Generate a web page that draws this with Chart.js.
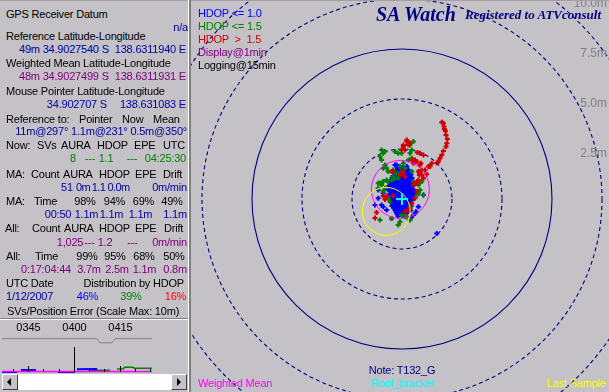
<!DOCTYPE html>
<html>
<head>
<meta charset="utf-8">
<title>SA Watch</title>
<script src="https://cdn.jsdelivr.net/npm/chart.js@4.4.1/dist/chart.umd.min.js"></script>
<style>
  html, body { margin: 0; padding: 0; }
  body {
    position: relative; width: 609px; height: 392px; overflow: hidden;
    background: #c4c2c7; font-family: 'Liberation Sans', Arial, sans-serif; font-size: 11px;
  }
  .t { position: absolute; white-space: pre; line-height: 11px; letter-spacing: -0.2px; }
  #chart { position: absolute; left: 191px; top: 0; }
  #mini { position: absolute; left: 2px; top: 322px; }
  .rule { position: absolute; }
  .btn {
    position: absolute; top: 374px; width: 16px; height: 16px; background: #c4c2c7; box-sizing: border-box;
    border-top: 1px solid #fff; border-left: 1px solid #fff; border-right: 1px solid #404040; border-bottom: 1px solid #404040;
  }
  .arrow { position: absolute; top: 3px; width: 0; height: 0; border-top: 4px solid transparent; border-bottom: 4px solid transparent; }
</style>
</head>
<body>
<canvas id="chart" width="418" height="392"></canvas>
<canvas id="mini" width="185" height="52"></canvas>
<div class="rule" style="left:0;top:0;width:609px;height:1px;background:#a09fa3"></div>
<div class="rule" style="left:0;top:318px;width:188px;height:1px;background:#808080"></div>
<div class="rule" style="left:0;top:319px;width:188px;height:1px;background:#fff"></div>
<div class="rule" style="left:188px;top:0;width:1px;height:392px;background:#fff"></div>
<div class="rule" style="left:189px;top:0;width:2px;height:392px;background:#808080"></div>
<div class="rule" style="left:2px;top:374px;width:185px;height:16px;background:#fff"></div>
<div class="btn" style="left:2px"><div class="arrow" style="left:4px;border-right:4px solid #000"></div></div>
<div class="btn" style="left:171px"><div class="arrow" style="left:5px;border-left:4px solid #000"></div></div>
<script>
// positions in metres from the reference point: [east, north]
const bluePts = [
  [-0.20, 1.55], [0.02, 1.57], [0.22, 1.52],
  [-0.30, 1.45], [-0.10, 1.46], [0.10, 1.44], [0.30, 1.47],
  [-0.40, 1.35], [-0.18, 1.37], [0.02, 1.33], [0.20, 1.36], [0.40, 1.32],
  [-0.35, 1.25], [-0.15, 1.26], [0.05, 1.24], [0.25, 1.27], [0.45, 1.23],
  [-0.45, 1.15], [-0.25, 1.17], [-0.05, 1.13], [0.15, 1.16], [0.35, 1.12],
  [-0.50, 1.05], [-0.30, 1.06], [-0.10, 1.04], [0.10, 1.07], [0.30, 1.03], [0.50, 1.05],
  [-0.55, 0.95], [-0.35, 0.97], [-0.15, 0.93], [0.05, 0.96], [0.25, 0.94], [0.45, 0.97],
  [-0.65, 0.85], [-0.45, 0.86], [-0.25, 0.84], [-0.05, 0.87], [0.15, 0.83], [0.35, 0.85], [0.55, 0.86],
  [-0.60, 0.75], [-0.40, 0.77], [-0.20, 0.73], [0.00, 0.76], [0.20, 0.74], [0.40, 0.77], [0.55, 0.72],
  [-0.65, 0.65], [-0.45, 0.66], [-0.25, 0.64], [-0.05, 0.67], [0.15, 0.63], [0.35, 0.65], [0.55, 0.66],
  [-0.55, 0.55], [-0.35, 0.57], [-0.15, 0.53], [0.05, 0.56], [0.25, 0.54], [0.45, 0.57],
  [-0.60, 0.45], [-0.40, 0.46], [-0.20, 0.44], [0.00, 0.47], [0.20, 0.43], [0.40, 0.45], [0.58, 0.46],
  [-0.50, 0.35], [-0.30, 0.37], [-0.10, 0.33], [0.10, 0.36], [0.30, 0.34], [0.50, 0.37],
  [-0.60, 0.25], [-0.40, 0.26], [-0.20, 0.24], [0.00, 0.27], [0.20, 0.23], [0.40, 0.25], [0.58, 0.26],
  [-0.55, 0.15], [-0.35, 0.17], [-0.15, 0.13], [0.05, 0.16], [0.25, 0.14], [0.45, 0.17],
  [-0.60, 0.05], [-0.40, 0.06], [-0.20, 0.04], [0.00, 0.07], [0.20, 0.03], [0.40, 0.05], [0.55, 0.06],
  [-0.50, -0.05], [-0.30, -0.03], [-0.10, -0.07], [0.10, -0.04], [0.30, -0.06], [0.50, -0.03],
  [-0.55, -0.15], [-0.35, -0.14], [-0.15, -0.16], [0.05, -0.13], [0.25, -0.17], [0.45, -0.15],
  [-0.45, -0.25], [-0.25, -0.23], [-0.05, -0.27], [0.15, -0.24], [0.35, -0.26],
  [-0.50, -0.35], [-0.30, -0.34], [-0.10, -0.36], [0.10, -0.33], [0.30, -0.37], [0.45, -0.35],
  [-0.40, -0.45], [-0.20, -0.43], [0.00, -0.47], [0.20, -0.44], [0.40, -0.46],
  [-0.35, -0.55], [-0.15, -0.54], [0.05, -0.56], [0.25, -0.53], [0.42, -0.57],
  [-0.30, -0.65], [-0.10, -0.63], [0.10, -0.67], [0.30, -0.64],
  [-0.25, -0.75], [-0.05, -0.74], [0.15, -0.76],
  [-0.20, -0.85], [0.02, -0.83],
  [1.07, 0.20], [0.82, -0.39], [0.70, -0.64], [0.49, -0.89], [-1.19, 0.04], [-1.02, -0.30],
  [-0.77, -0.55], [-0.52, -0.97], [0.24, 1.62], [-0.27, 1.70], [-0.94, -0.39], [-1.19, 0.45],
  [-1.35, -0.30], [-0.94, 0.29], [0.65, -0.72], [1.74, -1.72], [-0.69, 0.45], [-0.35, 1.70],
  [0.62, 0.30], [0.60, 0.05]
]
const greenPts = [
  [-1.02, 2.45], [-0.94, 2.29], [-1.10, 2.12], [-1.02, 1.95], [-0.85, 1.70], [-0.94, 1.54], [-0.77, 1.54],
  [0.57, 2.87], [0.40, 2.70], [0.49, 2.45], [0.40, 2.29], [0.49, 2.04], [0.32, 1.95], [0.07, 1.79],
  [-0.10, 1.62], [0.15, 1.54], [-0.02, 1.37], [-0.27, 1.29], [-0.44, 1.12], [-0.19, 1.04], [-0.52, 0.95],
  [-0.77, 0.95], [-0.94, 0.87], [-1.10, 0.79], [0.99, 0.87], [0.82, 0.79], [-0.85, 2.37], [-0.69, 1.37],
  [-0.44, 1.45], [-0.35, 2.37], [-0.19, 2.29], [-0.02, 2.29], [0.49, 1.37], [0.57, 0.87], [0.82, 0.70],
  [0.90, 0.45], [0.77, 0.20], [-1.02, 0.70], [-1.19, 0.54], [-0.94, 0.37], [-0.85, 0.54], [-0.69, 0.87],
  [-0.35, 1.04], [0.40, -0.39], [-0.02, -0.80], [-0.10, -1.14], [-0.19, -1.30], [0.40, -1.05],
  [0.24, -0.89], [-1.10, -1.05], [-0.52, -0.97], [0.32, -0.55], [-1.19, 0.79], [-0.69, 0.04],
  [-0.60, -0.14], [0.15, -0.89], [0.82, 0.29], [1.07, 0.20]
]
const redPts = [
  [1.99, 3.84], [2.10, 3.62], [2.17, 3.40], [2.20, 3.20], [2.27, 3.00], [2.24, 2.79], [2.20, 2.62],
  [2.07, 2.40], [1.99, 2.20], [1.90, 2.04], [1.82, 1.87], [1.74, 1.80], [2.07, 3.79], [2.12, 3.50],
  [1.49, 1.79], [1.32, 1.62], [1.15, 1.45], [0.90, 1.29], [1.40, 1.62], [0.99, 1.45], [0.87, 1.20],
  [0.82, 0.95], [0.65, 0.79], [0.57, 1.79], [0.65, 1.95], [0.49, 1.95], [0.24, 2.87], [0.32, 2.70],
  [0.07, 2.70], [0.15, 2.45], [0.77, 2.32], [0.94, 1.79], [0.04, 1.37], [-0.10, 1.20], [-0.44, 1.37],
  [0.15, 1.12], [0.82, 1.37], [-0.77, 0.15], [-0.94, 0.15], [-0.85, -0.02], [-1.27, -0.67],
  [-1.35, -0.95], [0.37, -0.47], [0.15, -0.64], [0.49, -0.22], [0.74, 0.37], [0.65, 0.04],
  [-0.44, 0.15], [0.32, -0.55], [0.57, 0.70], [0.74, 0.79], [0.24, 2.95], [0.40, 2.79], [0.07, 2.62],
  [-0.02, 2.45], [0.74, 1.87], [0.90, 1.70], [1.24, 1.24], [0.99, 1.20], [0.77, 0.79], [1.07, 1.04],
  [0.07, 1.29], [-0.52, 1.37], [0.90, 2.29], [1.07, 2.20]
]
const referencePos = [0, 0]
const meanPos = [-0.08, 0.48]
const meanRadius = 1.45
const lastPos = [-0.79, -0.62]
const lastRadius = 1.2
const ringRadii = [2.5, 5, 7.5, 10, 12.5]
const solidRing = 7.5

// SVs / position error strip, x in minutes after 03:00
const startHour = 3
const nowMinute = 85.5
const svLine = [[36.5, 8], [67.5, 8], [68.5, 7], [72.5, 7], [73.5, 8], [85.5, 8]]
const meanLine = [[36.5, 0.1], [85.5, 0.1]]
const errBlue = [[36.5, 0], [41.4, 0], [41.5, null], [42.7, 0.4], [47.6, 0.4], [48, null],
  [54.8, 0], [60.4, 0], [60.8, null], [61, 0.55], [67.6, 0.6]]
const errGreen = [[65.4, 0.35], [71.8, 0.35], [72, null], [74.1, 0.6], [76.1, 0.6], [76.6, 0.95],
  [79.3, 0.95], [79.8, 0.75], [85.5, 0.75]]

const hdopShare = [46, 39, 16]
const hdopColors = ['#0000ff', '#008000', '#ff0000']

Chart.defaults.font.family = "'Liberation Sans', Arial, sans-serif"

const pts = arr => arr.map(([x, y]) => ({ x, y }))
const pxPerMetre = chart => chart.scales.x.getPixelForValue(1) - chart.scales.x.getPixelForValue(0)

const crossSet = (data, color, order) => ({
  data: pts(data),
  order,
  pointStyle: 'cross',
  pointRadius: 2.5,
  pointBorderWidth: 2,
  borderColor: color,
  pointBorderColor: color,
  backgroundColor: color
})

const circleSet = (pos, r, color, order) => ({
  data: pts([pos]),
  order,
  pointStyle: 'circle',
  pointRadius: ctx => {
    const k = pxPerMetre(ctx.chart)
    return Number.isFinite(k) ? r * k : 0
  },
  pointBackgroundColor: 'rgba(0,0,0,0)',
  backgroundColor: 'rgba(0,0,0,0)',
  pointBorderColor: color,
  borderColor: color,
  pointBorderWidth: 1
})

const rangeRings = {
  id: 'rangeRings',
  beforeDatasetsDraw (chart) {
    const { ctx, chartArea, scales: { x, y } } = chart
    const cx = x.getPixelForValue(0)
    const cy = y.getPixelForValue(0)
    ctx.save()
    ctx.strokeStyle = '#000080'
    ctx.lineWidth = 1.1
    ringRadii.forEach(r => {
      ctx.setLineDash(r === solidRing ? [] : [4, 3])
      ctx.beginPath()
      ctx.arc(cx, cy, x.getPixelForValue(r) - cx, 0, Math.PI * 2)
      ctx.stroke()
    })
    ctx.setLineDash([])
    ctx.fillStyle = '#808080'
    ctx.font = "12px 'Liberation Sans', Arial"
    ctx.textAlign = 'right'
    ctx.textBaseline = 'top'
    ringRadii.forEach(r => {
      ctx.fillText(r.toFixed(1) + 'm', chartArea.right - 2, y.getPixelForValue(r) - 1.5)
    })
    ctx.restore()
  }
}

const ref = crossSet([referencePos], '#00ffff', 0)
ref.pointRadius = 6
ref.pointBorderWidth = 2

// eslint-disable-next-line no-new
new Chart(document.getElementById('chart'), {
  type: 'scatter',
  data: {
    datasets: [
      crossSet(bluePts, '#0000ff', 5),
      crossSet(greenPts, '#008000', 4),
      crossSet(redPts, '#d00000', 3),
      circleSet(meanPos, meanRadius, '#ff00ff', 2),
      circleSet(lastPos, lastRadius, '#ffff00', 1),
      ref
    ]
  },
  options: {
    responsive: false,
    animation: false,
    events: [],
    layout: { padding: 0, autoPadding: false },
    plugins: { legend: { display: false }, tooltip: { enabled: false } },
    scales: {
      x: { type: 'linear', min: -10.55, max: 10.35, display: false },
      y: { type: 'linear', min: -9.65, max: 9.95, display: false }
    }
  },
  plugins: [rangeRings]
})

const timeTicks = {
  id: 'timeTicks',
  afterDatasetsDraw (chart) {
    const { ctx, scales: { x, err } } = chart
    const base = err.getPixelForValue(0)
    ctx.save()
    ctx.strokeStyle = '#000'
    ctx.fillStyle = '#000'
    ctx.lineWidth = 1
    ctx.font = "11px 'Liberation Sans', Arial"
    ctx.textAlign = 'center'
    ctx.textBaseline = 'middle'
    for (let m = Math.ceil(x.min / 5) * 5; m <= nowMinute; m += 5) {
      const px = Math.round(x.getPixelForValue(m)) + 0.5
      const len = m % 60 === 0 ? 25 : (m % 15 === 0 ? 6 : 3)
      ctx.beginPath()
      ctx.moveTo(px, base)
      ctx.lineTo(px, base - len)
      ctx.stroke()
      if (m % 15 === 0) {
        const h = startHour + Math.floor(m / 60)
        const mm = m % 60
        ctx.fillText(String(h).padStart(2, '0') + String(mm).padStart(2, '0'), px, 6)
      }
    }
    ctx.restore()
  }
}

const lineSet = (data, color, width, axis, order) => ({
  data: pts(data),
  yAxisID: axis,
  order,
  borderColor: color,
  borderWidth: width,
  pointRadius: 0,
  spanGaps: false,
  tension: 0
})

// eslint-disable-next-line no-new
new Chart(document.getElementById('mini'), {
  type: 'line',
  data: {
    datasets: [
      lineSet(svLine, '#808080', 1, 'sv', 3),
      lineSet(errGreen, '#008000', 1.5, 'err', 2),
      lineSet(errBlue, '#0000ff', 2, 'err', 1),
      lineSet(meanLine, '#ff00ff', 1.5, 'err', 0)
    ]
  },
  options: {
    responsive: false,
    animation: false,
    events: [],
    layout: { padding: 0, autoPadding: false },
    plugins: { legend: { display: false }, tooltip: { enabled: false } },
    scales: {
      x: { type: 'linear', min: 36.5, max: 97, display: false },
      err: { type: 'linear', min: -0.4, max: 10, display: false },
      sv: { type: 'linear', min: -0.48, max: 12, display: false }
    }
  },
  plugins: [timeTicks]
})

// text
const K = '#000000'
const B = '#0000a0'
const P = '#800080'
const G = '#008000'
const tight = { letterSpacing: '-0.6px' }
function put (x, y, text, color, align, css) {
  const el = document.createElement('div')
  el.className = 't'
  el.textContent = text
  el.style.left = x + 'px'
  el.style.top = (y - 5.5) + 'px'
  el.style.color = color
  if (align === 'r') el.style.transform = 'translateX(-100%)'
  if (align === 'c') el.style.transform = 'translateX(-50%)'
  if (css) Object.assign(el.style, css)
  document.body.appendChild(el)
}

const panelRows = [
  [14, [[6, 'GPS Receiver Datum', K]]],
  [27, [[188, 'n/a', B, 'r']]],
  [36, [[6, 'Reference Latitude-Longitude', K]]],
  [49, [[19, '49m 34.9027540 S', B], [186, '138.6311940 E', B, 'r']]],
  [63, [[6, 'Weighted Mean Latitude-Longitude', K]]],
  [76, [[19, '48m 34.9027499 S', P], [186, '138.6311931 E', P, 'r']]],
  [91, [[6, 'Mouse Pointer Latitude-Longitude', K]]],
  [104, [[107, '34.902707 S', B, 'r'], [186, '138.631083 E', B, 'r']]],
  [119, [[6, 'Reference to:', K], [79, 'Pointer', K], [122, 'Now', K], [153, 'Mean', K]]],
  [131, [[187, '11m@297° 1.1m@231° 0.5m@350°', B, 'r']]],
  [145, [[6, 'Now:', K], [37, 'SVs', K], [61, 'AURA', K], [97, 'HDOP', K], [134, 'EPE', K], [163, 'UTC', K]]],
  [158, [[73, '8', G, 'c'], [90, '---', G, 'c'], [106, '1.1', G, 'c'], [132, '---', G, 'c'], [186, '04:25:30', G, 'r']]],
  [174, [[6, 'MA:', K], [31, 'Count', K], [63, 'AURA', K], [99, 'HDOP', K], [135, 'EPE', K], [163, 'Drift', K]]],
  [187, [[67, '51', B, 'c'], [83, '0m', B, 'c', tight], [98.5, '1.1', B, 'c', tight], [118.5, '0.0m', B, 'c', tight], [187, '0m/min', B, 'r']]],
  [201, [[6, 'MA:', K], [34, 'Time', K], [85, '98%', K, 'c'], [114.5, '94%', K, 'c'], [143.5, '69%', K, 'c'], [172, '49%', K, 'c']]],
  [214, [[58, '00:50', B, 'c'], [86.5, '1.1m', B, 'c'], [111.5, '1.1m', B, 'c'], [140.5, '1.1m', B, 'c'], [187, '1.1m', B, 'r']]],
  [228, [[5, 'All:', K], [32, 'Count', K], [64, 'AURA', K], [99, 'HDOP', K], [135, 'EPE', K], [164, 'Drift', K]]],
  [242, [[70, '1,025', P, 'c'], [89.5, '---', P, 'c'], [105, '1.2', P, 'c'], [132.5, '---', P, 'c'], [187, '0m/min', P, 'r']]],
  [256, [[6, 'All:', K], [35, 'Time', K], [87, '99%', K, 'c'], [115, '95%', K, 'c'], [144, '68%', K, 'c'], [174, '50%', K, 'c']]],
  [269, [[46, '0:17:04:44', P, 'c'], [89, '3.7m', P, 'c'], [117, '2.5m', P, 'c'], [144.5, '1.1m', P, 'c'], [187, '0.8m', P, 'r']]],
  [283, [[6, 'UTC Date', K], [184, 'Distribution by HDOP', K, 'r']]],
  [296, [[6, '1/12/2007', B]]],
  [311, [[7, 'SVs/Position Error (Scale Max: 10m)', K]]]
]
panelRows.forEach(([y, cells]) => cells.forEach(([x, text, color, align, css]) => put(x, y, text, color, align, css)))
const shareX = [87.5, 131, 175.5]
hdopShare.forEach((v, i) => put(shareX[i], 296, v + '%', hdopColors[i], 'c'))

// plot panel text
put(198, 13, 'HDOP <= 1.0', '#0000ff')
put(198, 26, 'HDOP <= 1.5', '#008000')
put(198, 39, 'HDOP  >  1.5', '#d00000')
put(198, 52, 'Display@1min', '#800080')
put(198, 65, 'Logging@15min', K)
put(376, 13.5, 'SA Watch', '#000080', null, {
  fontFamily: "'Liberation Serif', 'Times New Roman', serif", fontSize: '20px', lineHeight: '20px',
  fontWeight: 'bold', fontStyle: 'italic', top: '3.5px', letterSpacing: '0px'
})
put(465, 15, 'Registered to ATVconsult', '#000080', null, {
  fontFamily: "'Liberation Serif', 'Times New Roman', serif", fontSize: '13px', lineHeight: '13px',
  fontWeight: 'bold', fontStyle: 'italic', top: '8.3px', letterSpacing: '0px'
})
put(402, 370, 'Note: T132_G', '#000080', 'c')
put(198, 383, 'Weighted Mean', '#ff00ff')
put(403, 383, 'Roof_bracket', '#00ffff', 'c')
put(606, 383, 'Last Sample', '#ffff00', 'r')
</script>
</body>
</html>
